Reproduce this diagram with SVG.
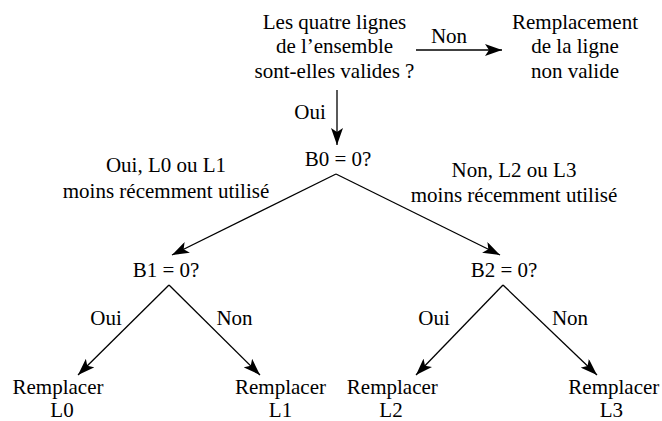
<svg xmlns="http://www.w3.org/2000/svg" width="662" height="421" viewBox="0 0 662 421">
<style>
text{font-family:"Liberation Serif","Times New Roman",serif;font-size:21px;fill:#000;text-anchor:middle}
.c line{stroke:#000;stroke-width:1.3;fill:none;marker-end:url(#ah)}
</style>
<defs>
<marker id="ah" markerUnits="userSpaceOnUse" viewBox="0 0 17 12" refX="17" refY="6" markerWidth="17" markerHeight="12" orient="auto">
<path d="M0,0 L17,6 L0,12 L4,6 Z" fill="#000"/>
</marker>
</defs>
<rect width="662" height="421" fill="#fff"/>
<g class="c" id="connectors">
<line x1="416" y1="50" x2="502" y2="50"/>
<line x1="337" y1="90" x2="337" y2="145"/>
<line x1="336" y1="174" x2="172" y2="255"/>
<line x1="336" y1="174" x2="500" y2="255"/>
<line x1="169" y1="285" x2="78" y2="375"/>
<line x1="169" y1="285" x2="260" y2="375"/>
<line x1="503" y1="285" x2="416" y2="375"/>
<line x1="503" y1="285" x2="597" y2="375"/>
</g>
<g id="labels">
<text x="449" y="43">Non</text>
<text x="310" y="119">Oui</text>
<text x="166" y="172">Oui, L0 ou L1</text>
<text x="166" y="198">moins récemment utilisé</text>
<text x="514" y="177">Non, L2 ou L3</text>
<text x="514" y="202">moins récemment utilisé</text>
<text x="106" y="325">Oui</text>
<text x="234.5" y="325">Non</text>
<text x="434" y="325">Oui</text>
<text x="570" y="325">Non</text>
</g>
<g id="q-valid">
<text x="334.5" y="28.5">Les quatre lignes</text>
<text x="334.5" y="53">de l’ensemble</text>
<text x="334.5" y="77.5">sont-elles valides ?</text>
</g>
<g id="replace-invalid">
<text x="575" y="28.5">Remplacement</text>
<text x="575" y="53">de la ligne</text>
<text x="575" y="77.5">non valide</text>
</g>
<g id="b0"><text x="338" y="166">B0 = 0?</text></g>
<g id="b1"><text x="166" y="277">B1 = 0?</text></g>
<g id="b2"><text x="504" y="277">B2 = 0?</text></g>
<g id="r-l0"><text x="58" y="394">Remplacer</text><text x="62" y="417">L0</text></g>
<g id="r-l1"><text x="280.5" y="394">Remplacer</text><text x="280.5" y="417">L1</text></g>
<g id="r-l2"><text x="392.3" y="394">Remplacer</text><text x="391" y="417">L2</text></g>
<g id="r-l3"><text x="613.8" y="394">Remplacer</text><text x="611.3" y="417">L3</text></g>
</svg>
